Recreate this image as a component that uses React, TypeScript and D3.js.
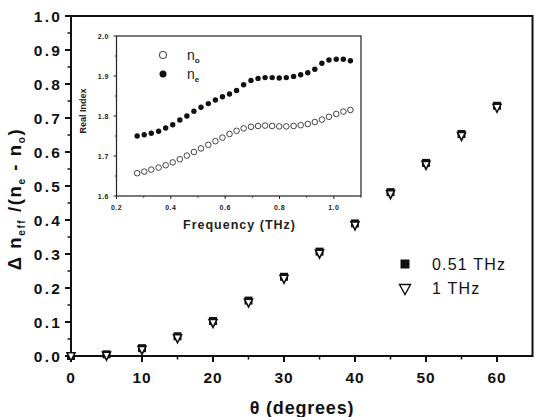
import React from "react";
import * as d3 from "d3";

// Main panel: normalized effective birefringence vs. incidence angle
const angles = [0, 5, 10, 15, 20, 25, 30, 35, 40, 45, 50, 55, 60];
const ratio051THz = [0.0, 0.005, 0.023, 0.058, 0.103, 0.163, 0.233, 0.307, 0.39, 0.482, 0.568, 0.653, 0.736];
const ratio1THz = [0.0, 0.002, 0.019, 0.053, 0.098, 0.158, 0.228, 0.302, 0.385, 0.477, 0.563, 0.648, 0.731];
const mainYTicks = [0, 0.1, 0.2, 0.3, 0.4, 0.5, 0.6, 0.7, 0.8, 0.9, 1.0];
const mainXTicks = [0, 10, 20, 30, 40, 50, 60];

// Inset: real refractive index (ordinary / extraordinary) vs. frequency
const freqTHz = [
  0.276, 0.302, 0.328, 0.355, 0.381, 0.407, 0.433, 0.459, 0.485, 0.511, 0.538,
  0.564, 0.59, 0.616, 0.642, 0.668, 0.695, 0.721, 0.747, 0.773, 0.799, 0.825,
  0.852, 0.878, 0.904, 0.93, 0.956, 0.982, 1.009, 1.035, 1.061,
];
const nOrdinary = [
  1.657, 1.661, 1.666, 1.671, 1.677, 1.684, 1.692, 1.701, 1.71, 1.719, 1.728,
  1.737, 1.746, 1.755, 1.763, 1.769, 1.773, 1.775, 1.776, 1.775, 1.774, 1.774,
  1.775, 1.777, 1.78, 1.785, 1.791, 1.798, 1.805, 1.811, 1.815,
];
const nExtra = [
  1.75, 1.753, 1.757, 1.762, 1.77, 1.778, 1.79, 1.8, 1.812, 1.822, 1.831,
  1.84, 1.848, 1.855, 1.864, 1.878, 1.889, 1.894, 1.896, 1.896, 1.895, 1.896,
  1.899, 1.903, 1.908, 1.917, 1.932, 1.94, 1.942, 1.942, 1.938,
];
const insetYTicks = [1.6, 1.7, 1.8, 1.9, 2.0];
const insetXTicks = [0.2, 0.4, 0.6, 0.8, 1.0];

const FONT = "Arial, 'Liberation Sans', Helvetica, sans-serif";

export default function App() {
  const x = d3.scaleLinear().domain([0, 65]).range([71, 532.5]);
  const y = d3.scaleLinear().domain([0, 1]).range([356, 16]);

  const fx = d3.scaleLinear().domain([0.2, 1.1]).range([116.5, 361]);
  const fy = d3.scaleLinear().domain([1.6, 2.0]).range([196, 36]);

  const yMinor = d3.range(0.05, 1.0, 0.1);
  const xMinor = d3.range(5, 65, 10);
  const fyMinor = d3.range(1.65, 2.0, 0.1);
  const fxMinor = d3.range(0.3, 1.11, 0.2);

  const square = d3.symbol(d3.symbolSquare, 64);
  const downTri = (cx: number, cy: number, w: number, h: number) =>
    `M${cx - w / 2},${cy - h * 0.4}L${cx + w / 2},${cy - h * 0.4}L${cx},${cy + h * 0.6}Z`;

  return (
    <svg
      width={535}
      height={417}
      style={{ position: "absolute", left: 0, top: 0, background: "#fff" }}
      fontFamily={FONT}
    >
      <rect x={0} y={0} width={535} height={417} fill="#fff" />

      {/* main frame */}
      <rect x={x(0)} y={y(1)} width={x(65) - x(0)} height={y(0) - y(1)} fill="none" stroke="#111" strokeWidth={2} />

      {/* main y axis ticks */}
      {mainYTicks.map((t) => (
        <g key={"my" + t}>
          <line x1={x(0) - 6} x2={x(0)} y1={y(t)} y2={y(t)} stroke="#111" strokeWidth={2} />
          <text
            x={62}
            y={y(t) + 5.5}
            textAnchor="end"
            fontSize={15.5}
            fontWeight="bold"
            letterSpacing={2.2}
            fill="#111"
          >
            {t.toFixed(1)}
          </text>
        </g>
      ))}
      {yMinor.map((t) => (
        <line key={"mym" + t} x1={x(0) - 3.5} x2={x(0)} y1={y(t)} y2={y(t)} stroke="#111" strokeWidth={1.5} />
      ))}

      {/* main x axis ticks */}
      {mainXTicks.map((t) => (
        <g key={"mx" + t}>
          <line x1={x(t)} x2={x(t)} y1={y(0)} y2={y(0) + 6} stroke="#111" strokeWidth={2} />
          <text x={x(t)} y={383} textAnchor="middle" fontSize={15.5} fontWeight="bold" letterSpacing={0.8} fill="#111">
            {t}
          </text>
        </g>
      ))}
      {xMinor.map((t) => (
        <line key={"mxm" + t} x1={x(t)} x2={x(t)} y1={y(0)} y2={y(0) + 3.5} stroke="#111" strokeWidth={1.5} />
      ))}

      {/* axis titles */}
      <text x={302} y={414} textAnchor="middle" fontSize={18} fontWeight="bold" letterSpacing={0.8} fill="#111">
        θ (degrees)
      </text>
      <text
        transform={`translate(21,199) rotate(-90)`}
        textAnchor="middle"
        fontSize={18.5}
        fontWeight="bold"
        letterSpacing={1.6}
        fill="#111"
      >
        <tspan>Δ n</tspan>
        <tspan fontSize={10} dy={4}>eff</tspan>
        <tspan dy={-4}> /(n</tspan>
        <tspan fontSize={10} dy={4}>e</tspan>
        <tspan dy={-4}> - n</tspan>
        <tspan fontSize={10} dy={4}>o</tspan>
        <tspan dy={-4}>)</tspan>
      </text>

      {/* main data: filled squares (0.51 THz) under open down-triangles (1 THz) */}
      {angles.map((a, i) => (
        <path
          key={"sq" + a}
          d={square() as string}
          transform={`translate(${x(a)},${y(ratio051THz[i])})`}
          fill="#111"
        />
      ))}
      {angles.map((a, i) => (
        <path
          key={"tr" + a}
          d={downTri(x(a), y(ratio1THz[i]), 8, 8)}
          fill="#fff"
          stroke="#111"
          strokeWidth={1.6}
        />
      ))}

      {/* main legend */}
      <rect x={400.5} y={259.5} width={9} height={9} fill="#111" />
      <text x={432} y={270} fontSize={16} letterSpacing={1.2} fill="#111">0.51 THz</text>
      <path d={downTri(405, 288.5, 11, 10)} fill="#fff" stroke="#111" strokeWidth={1.4} />
      <text x={432} y={294} fontSize={16} letterSpacing={1.2} fill="#111">1 THz</text>

      {/* inset */}
      <rect x={fx(0.2)} y={fy(2.0)} width={fx(1.1) - fx(0.2)} height={fy(1.6) - fy(2.0)} fill="#fff" stroke="#222" strokeWidth={1.2} />
      {insetYTicks.map((t) => (
        <g key={"iy" + t}>
          <line x1={fx(0.2) - 3} x2={fx(0.2)} y1={fy(t)} y2={fy(t)} stroke="#222" strokeWidth={1} />
          <text x={109} y={fy(t) + 2.5} textAnchor="end" fontSize={7} fontWeight="bold" letterSpacing={0.5} fill="#222">
            {t.toFixed(1)}
          </text>
        </g>
      ))}
      {fyMinor.map((t) => (
        <line key={"iym" + t} x1={fx(0.2) - 1.8} x2={fx(0.2)} y1={fy(t)} y2={fy(t)} stroke="#222" strokeWidth={0.8} />
      ))}
      {insetXTicks.map((t) => (
        <g key={"ix" + t}>
          <line x1={fx(t)} x2={fx(t)} y1={fy(1.6)} y2={fy(1.6) + 3} stroke="#222" strokeWidth={1} />
          <text x={fx(t)} y={209.5} textAnchor="middle" fontSize={7} fontWeight="bold" letterSpacing={0.5} fill="#222">
            {t.toFixed(1)}
          </text>
        </g>
      ))}
      {fxMinor.map((t) => (
        <line key={"ixm" + t} x1={fx(t)} x2={fx(t)} y1={fy(1.6)} y2={fy(1.6) + 1.8} stroke="#222" strokeWidth={0.8} />
      ))}
      <text x={239.5} y={229} textAnchor="middle" fontSize={12.5} fontWeight="bold" letterSpacing={1} fill="#222">
        Frequency (THz)
      </text>
      <text transform="translate(86,111) rotate(-90)" textAnchor="middle" fontSize={9} fontWeight="bold" fill="#222">
        Real Index
      </text>

      {/* inset data */}
      {freqTHz.map((f, i) => (
        <circle key={"no" + f} cx={fx(f)} cy={fy(nOrdinary[i])} r={2.8} fill="#fff" stroke="#444" strokeWidth={1} />
      ))}
      {freqTHz.map((f, i) => (
        <circle key={"ne" + f} cx={fx(f)} cy={fy(nExtra[i])} r={2.7} fill="#111" />
      ))}

      {/* inset legend */}
      <circle cx={163} cy={55} r={3.5} fill="#fff" stroke="#555" strokeWidth={1.1} />
      <text x={187} y={59.5} fontSize={14} fill="#222">
        n<tspan fontSize={8} fontWeight="bold" dy={3.5}>o</tspan>
      </text>
      <circle cx={163} cy={74} r={3.5} fill="#111" />
      <text x={187} y={78.5} fontSize={14} fill="#222">
        n<tspan fontSize={8} fontWeight="bold" dy={3.5}>e</tspan>
      </text>
    </svg>
  );
}
